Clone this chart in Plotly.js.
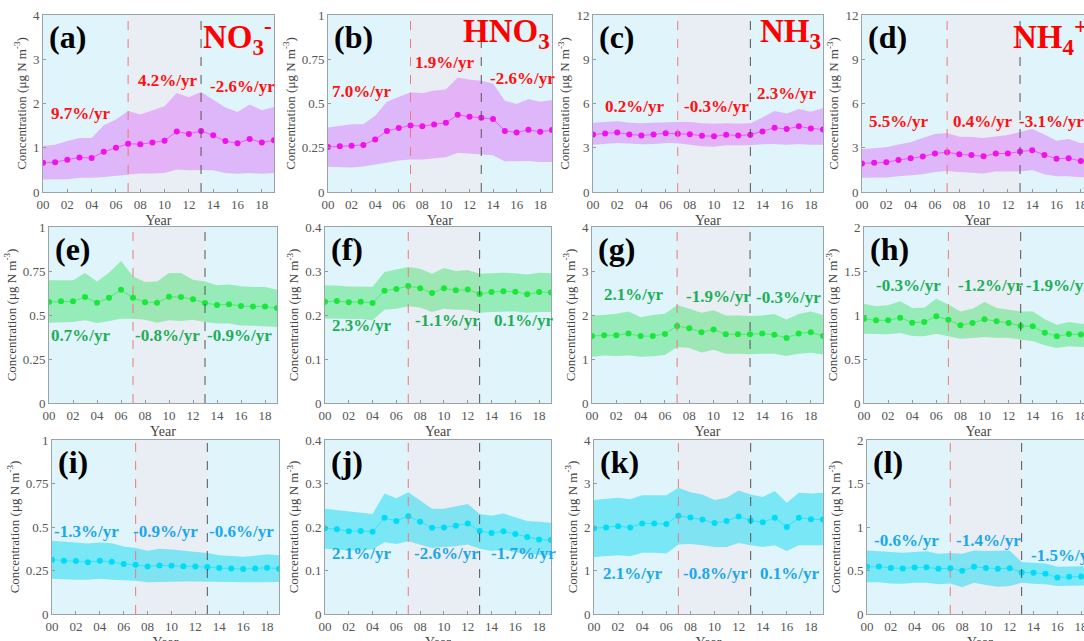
<!DOCTYPE html>
<html><head><meta charset="utf-8">
<script src="https://cdn.plot.ly/plotly-3.0.1.min.js"></script>
<style>
html,body{margin:0;padding:0;overflow:hidden;background:#fff;width:1084px;height:641px}
#chart{width:1100px;height:660px}
</style>
</head><body><div id="chart"></div>
<script>
// ---------------- data ----------------
const years = [0,1,2,3,4,5,6,7,8,9,10,11,12,13,14,15,16,17,18,19];
const xTickVals = [0,2,4,6,8,10,12,14,16,18];
const xTickText = ['00','02','04','06','08','10','12','14','16','18'];
const panelLabels = ['(a)','(b)','(c)','(d)','(e)','(f)','(g)','(h)','(i)','(j)','(k)','(l)'];
const speciesNames = ['NO<sub>3</sub><sup>-</sup>','HNO<sub>3</sub>','NH<sub>3</sub>','NH<sub>4</sub><sup>+</sup>'];

const meanA = [0.66,0.67,0.73,0.78,0.77,0.91,1.00,1.09,1.08,1.12,1.16,1.37,1.31,1.38,1.28,1.15,1.10,1.20,1.12,1.17];
const upperA = [1.04,1.07,1.15,1.22,1.22,1.51,1.64,1.83,1.75,1.85,1.94,2.24,2.14,2.26,2.08,1.91,1.81,1.98,1.85,1.92];
const lowerA = [0.28,0.28,0.29,0.32,0.32,0.34,0.37,0.40,0.42,0.42,0.43,0.51,0.49,0.50,0.49,0.43,0.41,0.43,0.41,0.43];

const meanB = [0.254,0.258,0.262,0.266,0.297,0.345,0.361,0.376,0.372,0.381,0.391,0.436,0.425,0.419,0.412,0.345,0.336,0.351,0.340,0.350];
const upperB = [0.364,0.372,0.383,0.383,0.431,0.510,0.535,0.563,0.558,0.573,0.579,0.647,0.634,0.628,0.613,0.516,0.497,0.526,0.510,0.520];
const lowerB = [0.142,0.142,0.139,0.144,0.156,0.169,0.178,0.184,0.184,0.190,0.197,0.222,0.216,0.213,0.207,0.173,0.173,0.175,0.169,0.170];

const meanC = [3.90,3.97,4.04,3.90,3.83,3.90,3.99,3.95,3.92,3.81,3.78,3.88,3.83,3.88,4.11,4.36,4.27,4.45,4.31,4.24];
const upperC = [4.70,4.75,4.79,4.70,4.66,4.70,4.75,4.75,4.75,4.66,4.63,4.66,4.63,4.66,5.05,5.50,5.32,5.62,5.44,5.67];
const lowerC = [3.21,3.26,3.33,3.28,3.23,3.26,3.33,3.30,3.21,3.10,3.07,3.17,3.17,3.17,3.23,3.26,3.21,3.26,3.21,3.20];

const meanD = [1.94,1.99,2.01,2.17,2.29,2.40,2.61,2.70,2.56,2.51,2.42,2.61,2.61,2.74,2.83,2.51,2.26,2.29,2.10,2.20];
const upperD = [2.90,2.95,3.04,3.22,3.38,3.66,3.93,4.00,3.75,3.73,3.66,3.77,3.86,4.07,4.27,3.89,3.47,3.59,3.31,3.40];
const lowerD = [0.96,0.96,0.98,1.07,1.14,1.21,1.35,1.42,1.35,1.33,1.26,1.39,1.37,1.39,1.49,1.21,1.07,1.07,1.00,1.00];

const meanE = [0.574,0.578,0.578,0.602,0.570,0.598,0.644,0.598,0.572,0.570,0.604,0.602,0.589,0.568,0.557,0.561,0.551,0.548,0.548,0.540];
const upperE = [0.697,0.699,0.697,0.739,0.691,0.740,0.807,0.720,0.688,0.691,0.739,0.739,0.700,0.691,0.669,0.674,0.663,0.659,0.659,0.644];
const lowerE = [0.456,0.460,0.460,0.470,0.455,0.466,0.479,0.479,0.473,0.456,0.470,0.466,0.473,0.460,0.451,0.451,0.441,0.439,0.436,0.432];

const meanF = [0.230,0.232,0.229,0.230,0.227,0.255,0.259,0.266,0.261,0.250,0.261,0.256,0.258,0.248,0.252,0.254,0.253,0.247,0.252,0.251];
const upperF = [0.267,0.267,0.265,0.265,0.264,0.298,0.303,0.309,0.305,0.294,0.307,0.300,0.302,0.294,0.295,0.296,0.295,0.292,0.296,0.295];
const lowerF = [0.192,0.192,0.191,0.191,0.188,0.212,0.214,0.220,0.217,0.207,0.214,0.212,0.212,0.205,0.207,0.208,0.208,0.205,0.207,0.207];

const meanG = [1.52,1.54,1.54,1.58,1.52,1.52,1.57,1.75,1.70,1.61,1.67,1.56,1.56,1.56,1.58,1.55,1.48,1.58,1.61,1.52];
const upperG = [1.99,2.00,2.03,2.08,1.95,2.00,2.03,2.23,2.14,2.05,2.11,1.99,1.99,1.98,1.99,2.02,1.90,2.02,2.08,2.00];
const lowerG = [1.05,1.08,1.07,1.08,1.05,1.06,1.09,1.27,1.25,1.15,1.21,1.12,1.12,1.11,1.12,1.12,1.07,1.12,1.14,1.10];

const meanH = [0.958,0.939,0.939,0.970,0.913,0.920,0.985,0.947,0.883,0.909,0.951,0.928,0.909,0.875,0.871,0.799,0.758,0.784,0.777,0.780];
const upperH = [1.129,1.100,1.110,1.155,1.080,1.083,1.186,1.120,1.040,1.070,1.148,1.080,1.060,1.040,1.040,0.951,0.890,0.920,0.900,0.900];
const lowerH = [0.788,0.780,0.780,0.795,0.761,0.758,0.788,0.758,0.731,0.739,0.750,0.742,0.742,0.720,0.705,0.655,0.625,0.644,0.636,0.640];

const meanI = [0.312,0.306,0.304,0.298,0.306,0.300,0.287,0.283,0.273,0.279,0.277,0.275,0.273,0.270,0.264,0.262,0.258,0.262,0.266,0.260];
const upperI = [0.421,0.415,0.411,0.405,0.411,0.407,0.388,0.379,0.363,0.375,0.371,0.365,0.359,0.350,0.337,0.331,0.329,0.335,0.344,0.338];
const lowerI = [0.203,0.199,0.197,0.197,0.203,0.197,0.195,0.191,0.182,0.185,0.185,0.187,0.187,0.187,0.185,0.184,0.182,0.182,0.184,0.184];

const meanJ = [0.197,0.195,0.190,0.191,0.189,0.221,0.214,0.225,0.212,0.198,0.199,0.203,0.208,0.191,0.186,0.190,0.184,0.177,0.171,0.170];
const upperJ = [0.242,0.239,0.235,0.233,0.230,0.277,0.266,0.280,0.260,0.242,0.242,0.247,0.253,0.230,0.226,0.231,0.222,0.214,0.212,0.210];
const lowerJ = [0.150,0.148,0.146,0.146,0.148,0.165,0.161,0.167,0.160,0.152,0.154,0.156,0.160,0.150,0.145,0.148,0.142,0.139,0.136,0.135];

const meanK = [1.97,1.99,2.02,1.99,2.08,2.08,2.07,2.26,2.22,2.17,2.09,2.14,2.24,2.15,2.11,2.21,2.00,2.21,2.18,2.17];
const upperK = [2.62,2.64,2.67,2.64,2.73,2.73,2.73,2.90,2.80,2.75,2.62,2.67,2.84,2.75,2.69,2.83,2.56,2.79,2.77,2.79];
const lowerK = [1.31,1.33,1.35,1.33,1.41,1.41,1.39,1.60,1.61,1.58,1.54,1.54,1.63,1.58,1.54,1.58,1.45,1.58,1.58,1.58];

const meanL = [0.542,0.545,0.530,0.523,0.534,0.538,0.519,0.527,0.496,0.542,0.530,0.519,0.527,0.477,0.473,0.462,0.420,0.428,0.432,0.430];
const upperL = [0.731,0.720,0.712,0.705,0.712,0.720,0.693,0.700,0.693,0.731,0.723,0.723,0.731,0.598,0.587,0.580,0.542,0.542,0.549,0.550];
const lowerL = [0.364,0.364,0.352,0.348,0.360,0.360,0.341,0.352,0.307,0.360,0.333,0.314,0.322,0.360,0.348,0.341,0.322,0.322,0.326,0.330];

const ratesA = ['9.7%/yr','4.2%/yr','-2.6%/yr'];
const ratesB = ['7.0%/yr','1.9%/yr','-2.6%/yr'];
const ratesC = ['0.2%/yr','-0.3%/yr','2.3%/yr'];
const ratesD = ['5.5%/yr','0.4%/yr','-3.1%/yr'];
const ratesE = ['0.7%/yr','-0.8%/yr','-0.9%/yr'];
const ratesF = ['2.3%/yr','-1.1%/yr','0.1%/yr'];
const ratesG = ['2.1%/yr','-1.9%/yr','-0.3%/yr'];
const ratesH = ['-0.3%/yr','-1.2%/yr','-1.9%/yr'];
const ratesI = ['-1.3%/yr','-0.9%/yr','-0.6%/yr'];
const ratesJ = ['2.1%/yr','-2.6%/yr','-1.7%/yr'];
const ratesK = ['2.1%/yr','-0.8%/yr','0.1%/yr'];
const ratesL = ['-0.6%/yr','-1.4%/yr','-1.5%/yr'];

const breakYears = [7, 13];

// ---------------- layout / style ----------------
const W = 1100, H = 660;
const FONT = 'Liberation Serif, Times New Roman, serif';
const rowsPx = [[15,192],[227,403],[440,614]];
const colsPx = [
  [[43,274],[328,552],[593,823],[862,1093]],
  [[49,277],[325,551],[592,823],[864,1093]],
  [[52,279],[325,551],[594,823],[867,1093]]
];
const rowStyle = [
  {dot:'#f010f0', line:'rgba(240,16,240,0.55)', band:'rgba(220,90,250,0.40)', text:'#ff1010'},
  {dot:'#18e83a', line:'rgba(24,232,58,0.55)', band:'rgba(50,225,90,0.42)', text:'#1fae58'},
  {dot:'#00dcf5', line:'rgba(0,220,245,0.55)', band:'rgba(0,215,240,0.45)', text:'#1aa8ec'}
];

const panels = [
  {m:meanA,u:upperA,l:lowerA,r:ratesA,yr:[0,4],dt:1,  pos:[[3.1,1.77],[10.2,2.52],[16.4,2.38]]},
  {m:meanB,u:upperB,l:lowerB,r:ratesB,yr:[0,1],dt:0.25,pos:[[2.85,0.567],[9.9,0.729],[16.5,0.643]]},
  {m:meanC,u:upperC,l:lowerC,r:ratesC,yr:[0,12],dt:3, pos:[[3.4,5.8],[10.2,5.8],[16.0,6.65]]},
  {m:meanD,u:upperD,l:lowerD,r:ratesD,yr:[0,12],dt:3, pos:[[3.0,4.75],[9.9,4.75],[15.6,4.75]]},
  {m:meanE,u:upperE,l:lowerE,r:ratesE,yr:[0,1],dt:0.25,pos:[[2.6,0.381],[9.9,0.381],[15.9,0.381]]},
  {m:meanF,u:upperF,l:lowerF,r:ratesF,yr:[0,0.4],dt:0.1,pos:[[3.1,0.1765],[10.3,0.188],[16.7,0.188]]},
  {m:meanG,u:upperG,l:lowerG,r:ratesG,yr:[0,4],dt:1,  pos:[[3.4,2.47],[10.4,2.42],[16.2,2.39]]},
  {m:meanH,u:upperH,l:lowerH,r:ratesH,yr:[0,2],dt:0.5, pos:[[3.7,1.337],[10.5,1.337],[16.1,1.337]]},
  {m:meanI,u:upperI,l:lowerI,r:ratesI,yr:[0,1],dt:0.25,pos:[[2.9,0.474],[9.5,0.474],[15.9,0.474]]},
  {m:meanJ,u:upperJ,l:lowerJ,r:ratesJ,yr:[0,0.4],dt:0.1,pos:[[3.1,0.1386],[10.2,0.1386],[16.7,0.1386]]},
  {m:meanK,u:upperK,l:lowerK,r:ratesK,yr:[0,4],dt:1,  pos:[[3.2,0.93],[10.1,0.93],[16.2,0.93]]},
  {m:meanL,u:upperL,l:lowerL,r:ratesL,yr:[0,2],dt:0.5, pos:[[3.3,0.845],[10.2,0.845],[16.5,0.674]]}
];

const traces = [];
const layout = {
  width: W, height: H,
  margin: {l:0, r:0, t:0, b:0},
  paper_bgcolor: '#ffffff',
  plot_bgcolor: '#dff4fb',
  showlegend: false,
  font: {family: FONT, color: '#444'},
  shapes: [], annotations: []
};

panels.forEach((p, i) => {
  const row = Math.floor(i / 4), col = i % 4;
  const n = i + 1;
  const xa = n === 1 ? 'x' : 'x' + n;
  const ya = n === 1 ? 'y' : 'y' + n;
  const xk = n === 1 ? 'xaxis' : 'xaxis' + n;
  const yk = n === 1 ? 'yaxis' : 'yaxis' + n;
  const st = rowStyle[row];
  const cx = colsPx[row][col], ry = rowsPx[row];

  traces.push({x: years, y: p.l, xaxis: xa, yaxis: ya, mode: 'lines', line: {width: 0, color: st.band}, hoverinfo: 'skip'});
  traces.push({x: years, y: p.u, xaxis: xa, yaxis: ya, mode: 'lines', line: {width: 0, color: st.band}, fill: 'tonexty', fillcolor: st.band, hoverinfo: 'skip'});
  traces.push({x: years, y: p.m, xaxis: xa, yaxis: ya, mode: 'lines+markers', line: {width: 1, color: st.line}, marker: {size: 6, color: st.dot}});

  layout[xk] = {
    domain: [cx[0] / W, cx[1] / W], anchor: ya, range: [0, 19],
    tickvals: xTickVals, ticktext: xTickText,
    tickfont: {family: FONT, size: 13, color: '#555'},
    ticks: 'inside', ticklen: 3, tickcolor: '#999',
    showline: true, mirror: true, linecolor: '#9aa4a8', linewidth: 1,
    showgrid: false, zeroline: false,
    title: {text: 'Year', font: {family: FONT, size: 14, color: '#444'}, standoff: 4}
  };
  layout[yk] = {
    domain: [1 - ry[1] / H, 1 - ry[0] / H], anchor: xa, range: p.yr,
    dtick: p.dt, tick0: 0,
    tickfont: {family: FONT, size: 13, color: '#555'},
    ticks: 'inside', ticklen: 3, tickcolor: '#999',
    showline: true, mirror: true, linecolor: '#9aa4a8', linewidth: 1,
    showgrid: false, zeroline: false,
    title: {text: 'Concentration (μg N m<sup>-3</sup>)', font: {family: FONT, size: 13, color: '#444'}, standoff: 3}
  };

  // middle period shading
  layout.shapes.push({type: 'rect', xref: xa, yref: ya + ' domain', x0: breakYears[0], x1: breakYears[1], y0: 0, y1: 1,
    fillcolor: '#e9edf4', line: {width: 0}, layer: 'below'});
  layout.shapes.push({type: 'line', xref: xa, yref: ya + ' domain', x0: breakYears[0], x1: breakYears[0], y0: 0, y1: 1,
    line: {color: '#ee7a7a', width: 1, dash: 'dash'}, layer: 'above'});
  layout.shapes.push({type: 'line', xref: xa, yref: ya + ' domain', x0: breakYears[1], x1: breakYears[1], y0: 0, y1: 1,
    line: {color: '#555555', width: 1, dash: 'dash'}, layer: 'above'});

  // panel label
  layout.annotations.push({text: '<b>' + panelLabels[i] + '</b>', xref: xa + ' domain', yref: ya + ' domain',
    x: 0, y: 1, xanchor: 'left', yanchor: 'top', xshift: 4, yshift: -2, showarrow: false,
    font: {family: FONT, size: 32, color: '#000'}});
  // species title (top row)
  if (row === 0) {
    layout.annotations.push({text: '<b>' + speciesNames[col] + '</b>', xref: xa + ' domain', yref: ya + ' domain',
      x: 1, y: 1, xanchor: 'right', yanchor: 'top', xshift: col === 3 ? -4 : 0, yshift: 4, showarrow: false,
      font: {family: FONT, size: 33, color: '#ff0000'}});
  }
  // rate labels
  p.r.forEach((txt, k) => {
    layout.annotations.push({text: '<b>' + txt + '</b>', xref: xa, yref: ya, x: p.pos[k][0], y: p.pos[k][1],
      xanchor: 'center', yanchor: 'middle', showarrow: false,
      font: {family: FONT, size: 17, color: st.text}});
  });
});

Plotly.newPlot('chart', traces, layout, {displayModeBar: false, staticPlot: true});
</script>
</body></html>
